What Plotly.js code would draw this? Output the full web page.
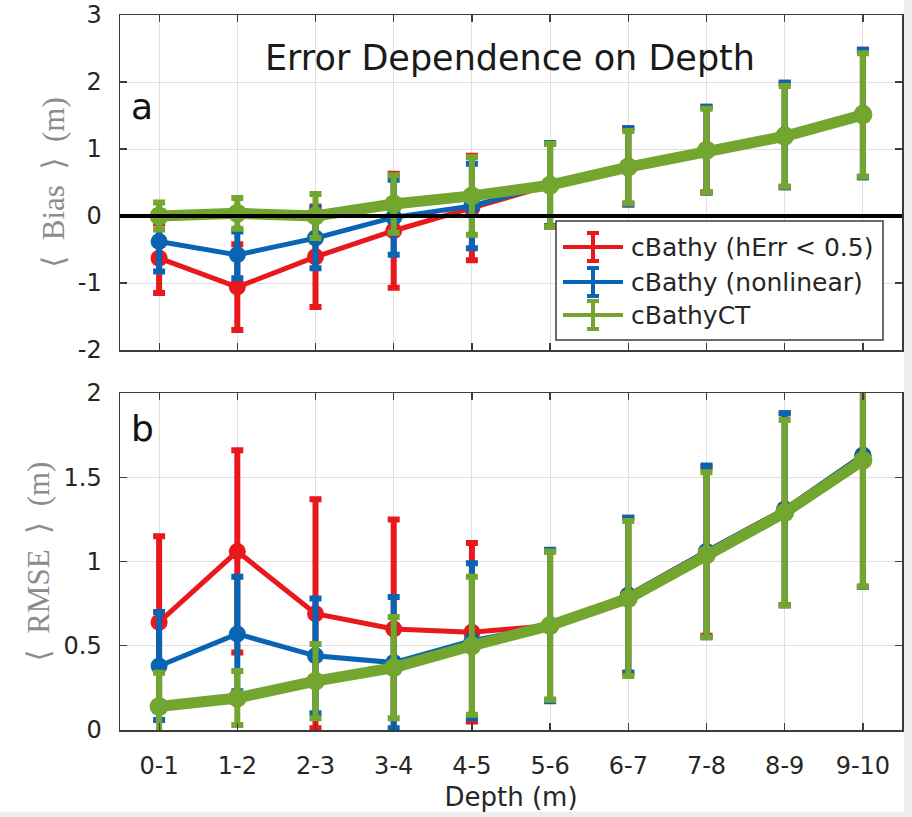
<!DOCTYPE html>
<html>
<head>
<meta charset="utf-8">
<script src="https://cdn.plot.ly/plotly-3.0.1.min.js"></script>
<style>
  html, body { margin: 0; padding: 0; background: #eeeeee; }
  #chart { width: 904px; height: 812px; background: #ffffff; }
</style>
</head>
<body>
<div id="chart"></div>
<script>
// ---- data ----
const depthBins = ['0-1','1-2','2-3','3-4','4-5','5-6','6-7','7-8','8-9','9-10'];

const seriesNames = ['cBathy (hErr < 0.5)', 'cBathy (nonlinear)', 'cBathyCT'];

// Panel a: mean bias (m) and error-bar half-widths
const biasHErr     = [-0.63, -1.06, -0.61, -0.22, 0.12, 0.46, 0.74, 0.99, 1.21, 1.53];
const biasHErrSd   = [0.52, 0.64, 0.75, 0.85, 0.78, 0.62, 0.57, 0.64, 0.78, 0.95];
const biasNonlin   = [-0.38, -0.58, -0.33, -0.02, 0.15, 0.47, 0.74, 0.99, 1.21, 1.53];
const biasNonlinSd = [0.45, 0.35, 0.45, 0.56, 0.63, 0.62, 0.57, 0.64, 0.78, 0.95];
const biasCT       = [0.00, 0.04, 0.00, 0.18, 0.30, 0.46, 0.73, 0.98, 1.19, 1.51];
const biasCTSd     = [0.20, 0.23, 0.33, 0.43, 0.58, 0.62, 0.54, 0.62, 0.75, 0.92];

// Panel b: mean RMSE (m) and error-bar half-widths
const rmseHErr     = [0.64, 1.06, 0.69, 0.60, 0.58, 0.62, 0.80, 1.06, 1.31, 1.63];
const rmseHErrSd   = [0.51, 0.60, 0.68, 0.65, 0.53, 0.44, 0.46, 0.50, 0.57, 0.78];
const rmseNonlin   = [0.38, 0.57, 0.44, 0.40, 0.53, 0.62, 0.80, 1.06, 1.31, 1.63];
const rmseNonlinSd = [0.32, 0.34, 0.34, 0.39, 0.46, 0.45, 0.46, 0.51, 0.57, 0.78];
const rmseCT       = [0.14, 0.19, 0.29, 0.37, 0.50, 0.62, 0.78, 1.04, 1.29, 1.60];
const rmseCTSd     = [0.20, 0.16, 0.22, 0.30, 0.41, 0.44, 0.46, 0.49, 0.55, 0.75];

const biasTickVals  = [-2, -1, 0, 1, 2, 3];
const biasTickText  = ['-2', '-1', '0', '1', '2', '3'];
const rmseTickVals  = [0, 0.5, 1, 1.5, 2];
const rmseTickText  = ['0', '0.5', '1', '1.5', '2'];

// ---- styles ----
const colors = ['#e8181c', '#0a64b4', '#72a62e'];
const lineW  = [5, 5, 11];
const mSize  = [17, 17, 19];
const sansFont = 'DejaVu Sans, Liberation Sans, Arial, sans-serif';
const serifFont = 'Liberation Serif, DejaVu Serif, Times New Roman, serif';
const textColor = '#262626';
const nb = '\u00A0';

function mk(i, y, err, xa, ya) {
  return {
    type: 'scatter', mode: 'lines+markers',
    x: depthBins, y: y, xaxis: xa, yaxis: ya,
    name: seriesNames[i], showlegend: false,
    line: {color: colors[i], width: lineW[i]},
    marker: {color: colors[i], size: mSize[i]},
    error_y: {type: 'data', array: err, visible: true, color: colors[i], thickness: 6, width: 6},
    cliponaxis: true
  };
}

const data = [
  mk(0, biasHErr, biasHErrSd, 'x', 'y'),
  mk(1, biasNonlin, biasNonlinSd, 'x', 'y'),
  mk(2, biasCT, biasCTSd, 'x', 'y'),
  mk(0, rmseHErr, rmseHErrSd, 'x2', 'y2'),
  mk(1, rmseNonlin, rmseNonlinSd, 'x2', 'y2'),
  mk(2, rmseCT, rmseCTSd, 'x2', 'y2')
];

const axisCommon = {
  showline: true, linecolor: '#3c3c3c', linewidth: 1.5, mirror: 'ticks',
  ticks: 'inside', ticklen: 7, tickwidth: 1.2, tickcolor: '#3c3c3c',
  showgrid: true, gridcolor: '#e0e0e0', gridwidth: 1,
  zeroline: false,
  tickfont: {family: sansFont, size: 24, color: textColor}
};

const yTitleFont = {family: serifFont, size: 31, color: '#8c8c8c'};

const layout = {
  width: 904, height: 812,
  margin: {l: 120, r: 2, t: 15, b: 82},
  paper_bgcolor: '#ffffff', plot_bgcolor: '#ffffff',
  showlegend: false,
  title: {
    text: 'Error Dependence on Depth',
    font: {family: sansFont, size: 35, color: '#1a1a1a'},
    xref: 'container', yref: 'container',
    x: 510 / 904, y: 1 - 58 / 812, xanchor: 'center', yanchor: 'middle'
  },
  xaxis: Object.assign({}, axisCommon, {
    type: 'category', range: [-0.5, 9.5], domain: [0, 1], anchor: 'y',
    showticklabels: false, matches: 'x2'
  }),
  yaxis: Object.assign({}, axisCommon, {
    range: [-2, 3], domain: [1 - 335 / 715, 1], anchor: 'x',
    tickvals: biasTickVals, ticktext: biasTickText, ticklabelstandoff: 12,
    title: {text: '⟨' + nb + nb + 'Bias' + nb + nb + '⟩' + nb + nb + '(m)', font: yTitleFont, standoff: 4}
  }),
  xaxis2: Object.assign({}, axisCommon, {
    type: 'category', range: [-0.5, 9.5], domain: [0, 1], anchor: 'y2',
    ticklabelstandoff: 14,
    title: {text: 'Depth (m)', font: {family: sansFont, size: 26, color: textColor}, standoff: 8}
  }),
  yaxis2: Object.assign({}, axisCommon, {
    range: [0, 2], domain: [0, 1 - 378 / 715], anchor: 'x2',
    tickvals: rmseTickVals, ticktext: rmseTickText, ticklabelstandoff: 12,
    title: {text: '⟨' + nb + nb + 'RMSE' + nb + nb + '⟩' + nb + nb + '(m)', font: yTitleFont, standoff: 4}
  }),
  shapes: [],
  annotations: [
    {text: 'a', xref: 'x domain', yref: 'y domain', x: 0.011, y: (350 - 106) / 335,
     xanchor: 'left', yanchor: 'middle', showarrow: false,
     font: {family: sansFont, size: 36, color: '#111111'}},
    {text: 'b', xref: 'x2 domain', yref: 'y2 domain', x: 0.011, y: (730 - 428) / 337,
     xanchor: 'left', yanchor: 'middle', showarrow: false,
     font: {family: sansFont, size: 36, color: '#111111'}}
  ]
};

// zero reference line on top of the bias panel
layout.shapes.push({type: 'line', xref: 'x domain', yref: 'y', x0: 0, x1: 1, y0: 0, y1: 0,
  line: {color: '#000000', width: 4}, layer: 'above'});

// legend box (panel a)
const lgX0 = (556 - 120) / 782, lgX1 = (883 - 120) / 782;
const lgY0 = (350 - 340) / 335, lgY1 = (350 - 221) / 335;
layout.shapes.push({type: 'rect', xref: 'x domain', yref: 'y domain', x0: lgX0, x1: lgX1, y0: lgY0, y1: lgY1,
  line: {color: '#3c3c3c', width: 1.5}, fillcolor: '#ffffff', layer: 'above'});
const rowY = [247, 282, 315].map(p => (350 - p) / 335);
const glX0 = (563 - 120) / 782, glX1 = (623 - 120) / 782, glXc = (593 - 120) / 782;
const capW = 6 / 782, barH = 14 / 335;
seriesNames.forEach((nm, i) => {
  const yc = rowY[i];
  const ln = {color: colors[i], width: 4};
  layout.shapes.push({type: 'line', xref: 'x domain', yref: 'y domain', x0: glX0, x1: glX1, y0: yc, y1: yc, line: ln, layer: 'above'});
  layout.shapes.push({type: 'line', xref: 'x domain', yref: 'y domain', x0: glXc, x1: glXc, y0: yc - barH, y1: yc + barH, line: ln, layer: 'above'});
  layout.shapes.push({type: 'line', xref: 'x domain', yref: 'y domain', x0: glXc - capW, x1: glXc + capW, y0: yc - barH, y1: yc - barH, line: ln, layer: 'above'});
  layout.shapes.push({type: 'line', xref: 'x domain', yref: 'y domain', x0: glXc - capW, x1: glXc + capW, y0: yc + barH, y1: yc + barH, line: ln, layer: 'above'});
  layout.annotations.push({text: nm, xref: 'x domain', yref: 'y domain', x: (629 - 120) / 782, y: yc,
    xanchor: 'left', yanchor: 'middle', showarrow: false,
    font: {family: sansFont, size: 25, color: textColor}});
});

Plotly.newPlot('chart', data, layout, {staticPlot: true, displayModeBar: false});
</script>
</body>
</html>
